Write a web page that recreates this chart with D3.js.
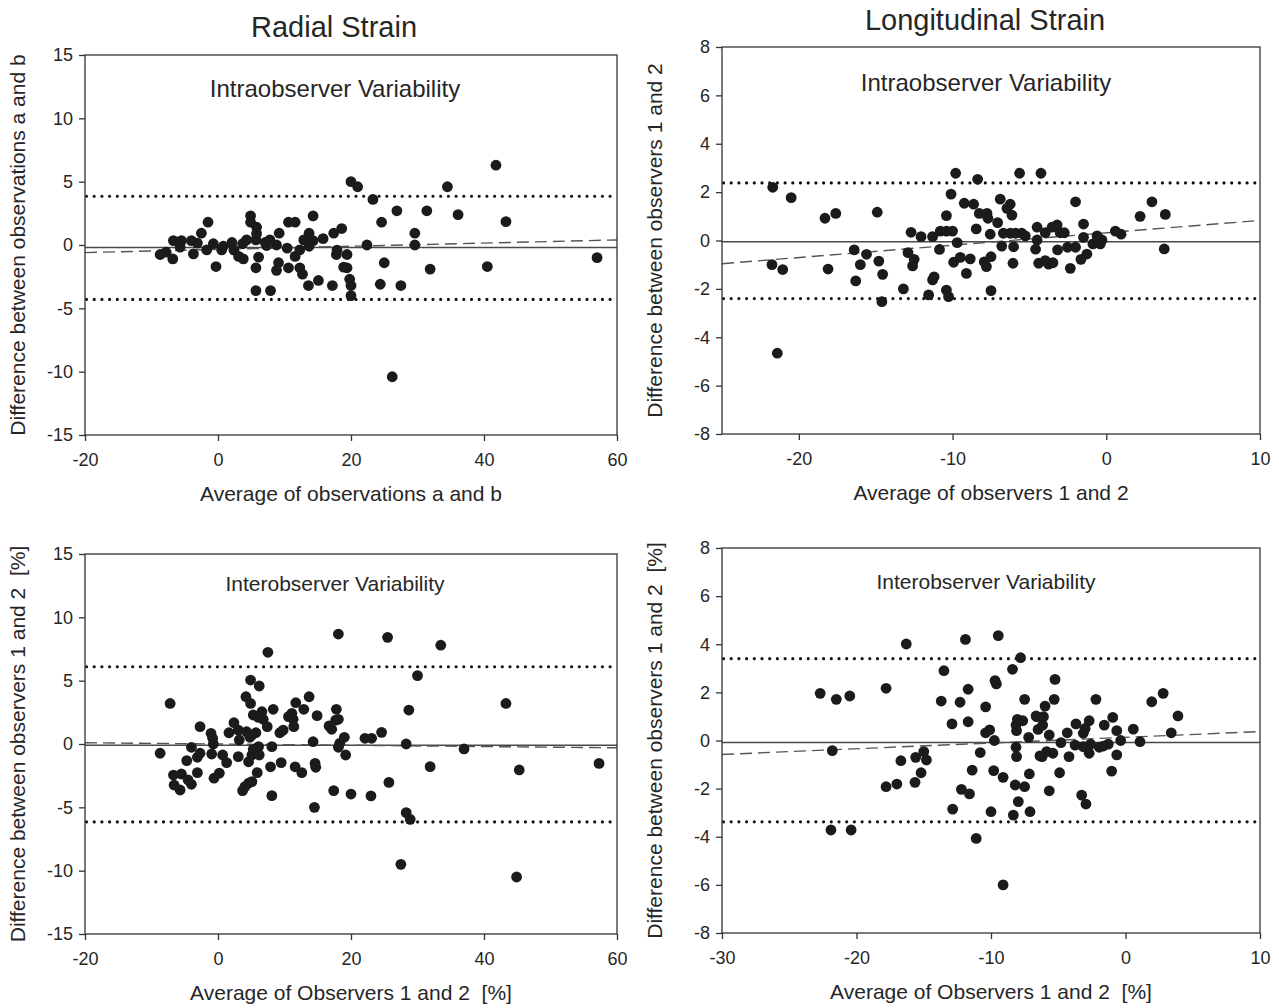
<!DOCTYPE html>
<html>
<head>
<meta charset="utf-8">
<script src="https://cdn.jsdelivr.net/npm/d3@7"></script>
<style>
  body { margin: 0; background: #fff; }
  svg { display: block; }
  text { font-family: "Liberation Sans", Arial, Helvetica, sans-serif; fill: #262626; }
</style>
</head>
<body>
<svg id="chart" width="1279" height="1008"></svg>
<script>
// ---- Bland–Altman data: [average, difference] per segment ----
const radialIntraPoints = [
  [-8.7,-0.75],[-7.8,-0.57],[-6.8,-1.1],[-6.7,0.35],[-5.7,-0.17],[-5.5,0.35],[-4.0,0.35],[-3.7,-0.7],
  [-3.1,0.15],[-2.5,0.93],[-1.5,1.8],[-1.7,-0.38],[-0.7,0.1],[-0.3,-1.7],[0.55,-0.38],[0.8,-0.1],
  [2.1,0.2],[2.4,-0.4],[3.1,-0.9],[3.8,-1.1],[3.7,0.1],[4.3,0.4],[4.9,2.3],[4.9,1.8],[5.8,1.4],
  [5.8,0.9],[5.7,0.4],[6.1,-0.96],[5.7,-1.8],[5.7,-3.6],[7.1,0.2],[7.8,0.4],[7.3,-0.04],[7.9,-3.6],
  [8.8,0],[9.2,0.93],[9.1,-1.4],[8.8,-2.0],[10.4,-0.25],[10.6,1.8],[11.6,1.8],[10.6,-1.8],[11.6,-0.9],
  [12.3,-1.8],[12.7,-2.3],[12.3,-0.38],[12.9,0.4],[13.7,0.93],[13.7,-0.1],[14.3,2.3],[14.3,0.35],
  [13.6,-3.2],[15.1,-2.8],[15.8,0.5],[17.2,-3.2],[17.4,0.93],[18.6,1.3],[17.8,-0.75],[19.4,-0.75],
  [18.9,-1.75],[19.4,-1.8],[19.8,-2.7],[20.0,-3.2],[20.0,-4.0],[20.0,5.0],[21.0,4.6],[17.9,-0.4],
  [23.3,3.6],[26.9,2.7],[31.4,2.7],[34.5,4.6],[36.1,2.4],[41.8,6.3],[43.3,1.85],[24.6,1.8],[29.6,0.93],
  [29.6,0.0],[22.4,0.0],[25.0,-1.4],[31.9,-1.9],[40.5,-1.7],[57.0,-1.0],[24.4,-3.1],[27.5,-3.2],[26.2,-10.4]
];
const longIntraPoints = [
  [-21.7,2.2],[-20.5,1.77],[-21.75,-1.0],[-21.05,-1.2],[-21.4,-4.66],[-18.3,0.92],[-17.6,1.12],[-18.1,-1.18],
  [-14.9,1.17],[-16.4,-0.39],[-15.6,-0.57],[-16.0,-1.0],[-14.8,-0.85],[-14.55,-1.4],[-16.3,-1.67],[-14.6,-2.53],
  [-13.2,-2.0],[-12.9,-0.5],[-12.5,-0.78],[-12.6,-1.05],[-12.7,0.34],[-12.05,0.16],[-11.3,0.16],[-11.2,-1.5],
  [-11.3,-1.63],[-11.56,-2.25],[-10.85,-0.37],[-10.8,0.39],[-10.4,0.39],[-10.0,0.39],[-10.4,1.03],[-10.1,1.92],
  [-9.8,2.78],[-9.7,-0.09],[-10.4,-2.05],[-10.26,-2.32],[-9.93,-0.9],[-9.5,-0.7],[-8.85,-0.76],[-9.1,-1.36],
  [-9.24,1.54],[-8.63,1.5],[-8.37,2.53],[-8.26,1.12],[-7.76,1.12],[-7.7,0.92],[-8.46,0.48],[-7.55,0.26],
  [-7.94,-0.88],[-7.8,-1.08],[-7.5,-0.67],[-7.5,-2.07],[-7.07,0.74],[-6.9,1.71],[-6.46,1.33],[-6.25,1.5],
  [-6.14,1.05],[-6.8,-0.23],[-6.03,-0.26],[-6.07,-0.94],[-6.7,0.3],[-6.25,0.3],[-5.64,2.78],[-4.25,2.78],
  [-5.9,0.3],[-5.5,0.3],[-5.27,0.19],[-4.5,0.55],[-4.5,0.02],[-4.6,-0.36],[-3.97,0.32],[-3.53,0.55],
  [-3.2,0.64],[-3.0,0.32],[-2.73,0.32],[-3.17,-0.39],[-4.4,-0.94],[-3.97,-0.83],[-3.75,-0.98],[-3.47,-0.92],
  [-2.52,-0.28],[-2.0,1.6],[-2.34,-1.15],[-1.48,0.68],[-1.48,0.13],[-2.0,-0.28],[-1.65,-0.78],[-1.26,-0.56],
  [-0.87,-0.14],[-0.6,0.19],[-0.28,0.02],[-0.39,-0.14],[0.59,0.39],[0.96,0.26],[2.2,1.0],[2.97,1.6],
  [3.84,1.08],[3.77,-0.35]
];
const radialInterPoints = [
  [18.1,8.68],[7.5,7.24],[-7.2,3.2],[-8.7,-0.73],[-6.7,-2.45],[-5.5,-2.37],[-6.6,-3.24],[-5.7,-3.63],
  [-4.5,-2.84],[-4.0,-3.18],[-3.1,-2.26],[-4.7,-1.31],[-4.0,-0.26],[-3.1,-1.05],[-2.7,-0.73],[-2.7,1.37],
  [-1.05,0.84],[-0.8,0.45],[-0.7,0],[-0.95,-0.79],[-0.6,-2.7],[0.2,-2.3],[0.7,-0.87],[1.3,-1.47],
  [1.65,0.89],[2.4,1.68],[3.05,1.1],[3.2,0.32],[3.05,-1.0],[3.7,-3.68],[4.05,-3.37],[4.6,-3.1],
  [5.1,-2.97],[4.2,3.73],[4.9,5.05],[6.2,4.58],[4.9,3.2],[5.3,2.29],[6.6,2.55],[6.1,2.1],[6.8,1.95],
  [7.4,1.37],[4.3,0.97],[5.1,0.71],[5.7,0.89],[4.8,0.53],[5.3,-0.42],[6.1,-0.21],[6.2,-0.87],[5.1,-0.87],
  [4.6,-1.4],[5.9,-2.26],[8.1,-0.21],[8.3,2.74],[7.9,-1.8],[8.1,-4.08],[9.3,0.89],[9.8,1.1],[9.5,-1.47],
  [10.6,2.16],[11.1,2.42],[11.3,1.95],[11.4,1.37],[11.7,3.26],[11.6,-1.8],[12.6,-2.26],[12.9,2.74],
  [13.7,3.73],[14.3,0.18],[14.9,2.24],[14.6,-1.53],[14.7,-1.84],[14.5,-5.0],[16.7,1.42],[17.1,1.16],
  [17.8,2.74],[17.7,1.89],[18.1,1.95],[18.1,-0.26],[19.0,0.53],[18.3,0.05],[19.2,-0.87],[17.4,-3.68],
  [20.0,-3.95],[25.5,8.42],[33.5,7.8],[30.0,5.4],[43.3,3.2],[28.7,2.68],[24.6,0.92],[22.1,0.45],
  [23.1,0.45],[28.3,0.0],[37.0,-0.39],[31.9,-1.79],[45.3,-2.05],[57.3,-1.53],[25.7,-3.03],[23.0,-4.1],
  [28.3,-5.42],[28.9,-5.95],[27.5,-9.5],[44.9,-10.5]
];
const longInterPoints = [
  [-16.3,4.01],[-11.9,4.2],[-9.46,4.36],[-7.8,3.44],[-13.5,2.9],[-8.4,2.96],[-22.7,1.96],[-21.5,1.71],
  [-20.5,1.85],[-17.8,2.17],[-13.7,1.64],[-12.3,1.59],[-11.7,2.13],[-9.7,2.49],[-9.6,2.35],[-10.4,1.4],
  [-7.5,1.71],[-12.9,0.69],[-11.7,0.78],[-10.4,0.32],[-10.1,0.44],[-9.75,0],[-8.04,0.88],[-7.64,0.82],
  [-8.14,0.64],[-8.1,0.41],[-6.6,0.99],[-6.5,0.46],[-7.2,0.13],[-8.14,-0.28],[-8.1,-0.67],[-6.36,-0.64],
  [-10.8,-0.5],[-21.8,-0.42],[-16.7,-0.84],[-15.6,-0.7],[-15.0,-0.46],[-14.8,-0.81],[-15.2,-1.34],
  [-17.0,-1.81],[-17.8,-1.92],[-15.65,-1.74],[-11.4,-1.23],[-9.8,-1.25],[-9.1,-1.53],[-8.2,-1.85],
  [-7.5,-1.92],[-7.15,-1.39],[-12.2,-2.03],[-11.6,-2.22],[-12.85,-2.85],[-10.0,-2.96],[-8.34,-3.1],
  [-7.97,-2.54],[-7.1,-2.96],[-21.9,-3.72],[-20.4,-3.72],[-11.1,-4.07],[-9.1,-6.0],[-5.24,2.54],
  [-5.3,1.71],[-2.2,1.71],[1.95,1.61],[2.8,1.96],[3.9,1.02],[3.4,0.32],[1.08,-0.05],[0.58,0.47],
  [-0.95,0.96],[-0.65,0.41],[-0.36,0],[-0.65,-0.6],[-1.03,-1.27],[-1.58,0.64],[-1.28,-0.15],[-1.65,-0.23],
  [-1.95,-0.28],[-2.7,0.82],[-3.0,0.5],[-3.68,0.69],[-3.14,0.3],[-2.6,-0.15],[-2.7,-0.53],[-3.14,-0.26],
  [-3.75,-0.19],[-4.33,0.32],[-4.8,-0.09],[-4.2,-0.67],[-4.9,-1.34],[-5.67,0.23],[-5.4,-0.53],[-5.86,-0.46],
  [-6.2,-0.67],[-5.67,-2.09],[-3.26,-2.27],[-2.94,-2.64],[-6.16,0.64],[-5.98,1.43],[-6.65,1.02],[-6.1,0.99]
];

// Reference lines: [upper limit, mean difference, lower limit]
const radialIntraLimits = [3.85, -0.2, -4.3];
const longIntraLimits   = [2.38, -0.05, -2.4];
const radialInterLimits = [6.1, -0.1, -6.15];
const longInterLimits   = [3.4, -0.08, -3.38];

// Regression of difference on average: difference at the left and right ends of the x range
const radialIntraTrend = [-0.6, 0.4];
const longIntraTrend   = [-0.96, 0.83];
const radialInterTrend = [0.1, -0.3];
const longInterTrend   = [-0.58, 0.37];

// Axis ranges and tick labels
const radialXDomain = [-20, 60];
const radialXTicks  = [-20, 0, 20, 40, 60];
const radialYDomain = [-15, 15];
const radialYTicks  = [-15, -10, -5, 0, 5, 10, 15];
const longIntraXDomain = [-25, 10];
const longIntraXTicks  = [-20, -10, 0, 10];
const longInterXDomain = [-30, 10];
const longInterXTicks  = [-30, -20, -10, 0, 10];
const longYDomain = [-8, 8];
const longYTicks  = [-8, -6, -4, -2, 0, 2, 4, 6, 8];

const svg = d3.select("#chart");

const panels = [
  { points: radialIntraPoints, limits: radialIntraLimits, trend: radialIntraTrend,
    xDomain: radialXDomain, xTicks: radialXTicks, yDomain: radialYDomain, yTicks: radialYTicks,
    box: { left: 85, right: 617, top: 55, bottom: 435 },
    title: "Radial Strain", titleX: 334, titleY: 37,
    sub: "Intraobserver Variability", subX: 335, subY: 97, subSize: 24,
    xTitle: "Average of observations a and b",
    yTitle: "Difference between observations a and b" },
  { points: longIntraPoints, limits: longIntraLimits, trend: longIntraTrend,
    xDomain: longIntraXDomain, xTicks: longIntraXTicks, yDomain: longYDomain, yTicks: longYTicks,
    box: { left: 722, right: 1260, top: 47, bottom: 434 },
    title: "Longitudinal Strain", titleX: 985, titleY: 30,
    sub: "Intraobserver Variability", subX: 986, subY: 91, subSize: 24,
    xTitle: "Average of observers 1 and 2",
    yTitle: "Difference between observers 1 and 2" },
  { points: radialInterPoints, limits: radialInterLimits, trend: radialInterTrend,
    xDomain: radialXDomain, xTicks: radialXTicks, yDomain: radialYDomain, yTicks: radialYTicks,
    box: { left: 85, right: 617, top: 554, bottom: 934 },
    sub: "Interobserver Variability", subX: 335, subY: 591, subSize: 21,
    xTitle: "Average of Observers 1 and 2  [%]",
    yTitle: "Difference between observers 1 and 2  [%]" },
  { points: longInterPoints, limits: longInterLimits, trend: longInterTrend,
    xDomain: longInterXDomain, xTicks: longInterXTicks, yDomain: longYDomain, yTicks: longYTicks,
    box: { left: 722, right: 1260, top: 548, bottom: 933 },
    sub: "Interobserver Variability", subX: 986, subY: 589, subSize: 21,
    xTitle: "Average of Observers 1 and 2  [%]",
    yTitle: "Difference between observers 1 and 2  [%]" }
];

panels.forEach(p => {
  const b = p.box;
  const x = d3.scaleLinear().domain(p.xDomain).range([b.left, b.right]);
  const y = d3.scaleLinear().domain(p.yDomain).range([b.bottom, b.top]);
  const g = svg.append("g");

  // limits of agreement (dotted)
  [p.limits[0], p.limits[2]].forEach(v => {
    g.append("line")
      .attr("x1", x(p.xDomain[0]) + 1.5).attr("x2", x(p.xDomain[1]))
      .attr("y1", y(v)).attr("y2", y(v))
      .attr("stroke", "#111").attr("stroke-width", 3.2)
      .attr("stroke-linecap", "round").attr("stroke-dasharray", "0 7.7");
  });
  // mean difference (solid)
  g.append("line")
    .attr("x1", x(p.xDomain[0])).attr("x2", x(p.xDomain[1]))
    .attr("y1", y(p.limits[1])).attr("y2", y(p.limits[1]))
    .attr("stroke", "#4a4a4a").attr("stroke-width", 1.4);
  // regression (dashed)
  g.append("line")
    .attr("x1", x(p.xDomain[0])).attr("x2", x(p.xDomain[1]))
    .attr("y1", y(p.trend[0])).attr("y2", y(p.trend[1]))
    .attr("stroke", "#555").attr("stroke-width", 1.4)
    .attr("stroke-dasharray", "12 6");

  // points
  g.append("g").selectAll("circle").data(p.points).join("circle")
    .attr("cx", d => x(d[0])).attr("cy", d => y(d[1]))
    .attr("r", 5.4).attr("fill", "#1b1b1b");

  // frame
  g.append("rect")
    .attr("x", b.left).attr("y", b.top)
    .attr("width", b.right - b.left).attr("height", b.bottom - b.top)
    .attr("fill", "none").attr("stroke", "#333").attr("stroke-width", 1.3);

  // axes
  const xAxis = d3.axisBottom(x).tickValues(p.xTicks).tickSize(6).tickPadding(12)
    .tickFormat(d => String(d));
  const yAxis = d3.axisLeft(y).tickValues(p.yTicks).tickSize(6).tickPadding(6)
    .tickFormat(d => String(d));
  const gx = g.append("g").attr("transform", `translate(0,${b.bottom})`).call(xAxis);
  const gy = g.append("g").attr("transform", `translate(${b.left},0)`).call(yAxis);
  [gx, gy].forEach(a => {
    a.select(".domain").remove();
    a.selectAll(".tick line").attr("stroke", "#333").attr("stroke-width", 1.3);
    a.selectAll(".tick text").attr("font-size", 18).attr("fill", "#262626")
      .style("font-family", '"Liberation Sans", Arial, sans-serif');
  });

  // titles
  if (p.title) {
    g.append("text").attr("x", p.titleX).attr("y", p.titleY)
      .attr("text-anchor", "middle").attr("font-size", 29).text(p.title);
  }
  g.append("text").attr("x", p.subX).attr("y", p.subY)
    .attr("text-anchor", "middle").attr("font-size", p.subSize).text(p.sub);
  g.append("text").attr("x", (b.left + b.right) / 2).attr("y", b.bottom + 66)
    .attr("text-anchor", "middle").attr("font-size", 21)
    .style("white-space", "pre").text(p.xTitle);
  g.append("text")
    .attr("transform", `translate(${b.left - 60},${(b.top + b.bottom) / 2}) rotate(-90)`)
    .attr("text-anchor", "middle").attr("font-size", 21)
    .style("white-space", "pre").text(p.yTitle);
});
</script>
</body>
</html>
